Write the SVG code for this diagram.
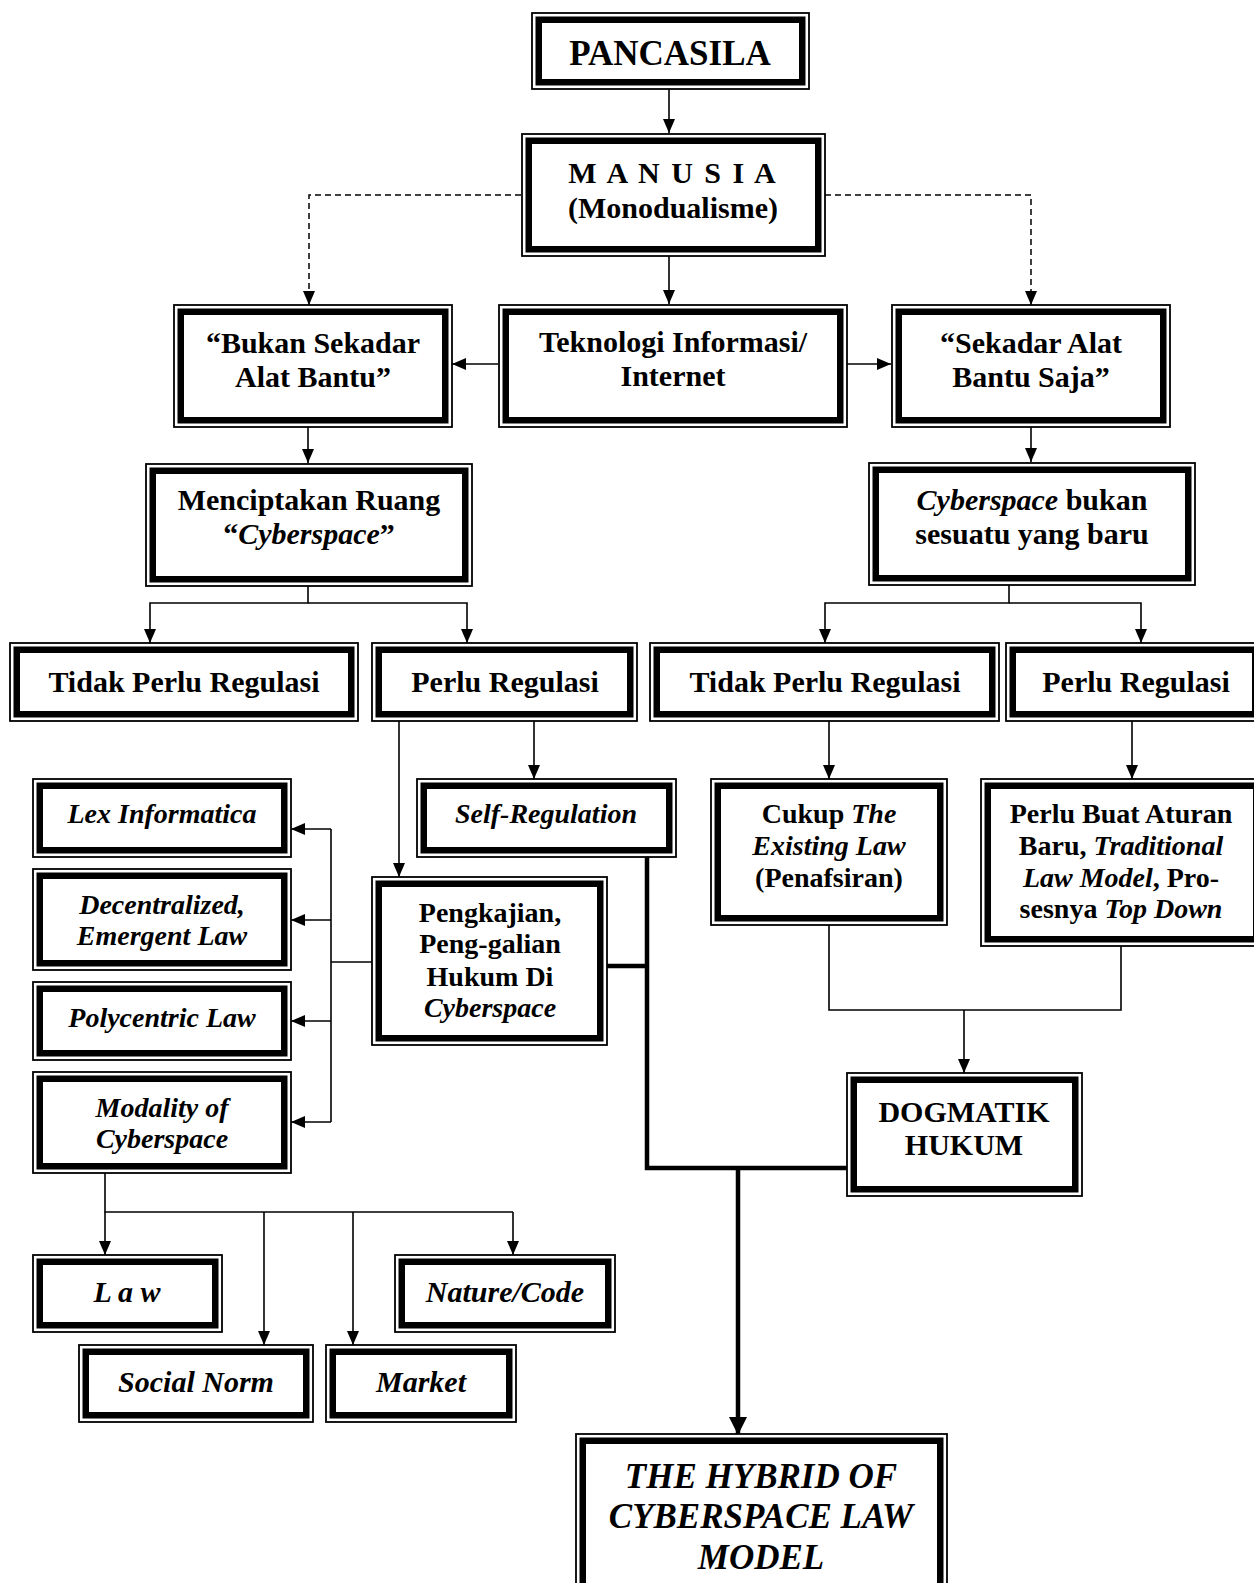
<svg xmlns="http://www.w3.org/2000/svg" width="1254" height="1583" viewBox="0 0 1254 1583">
<style>
.o{fill:#fff;stroke:#000;stroke-width:1.8}
.i{fill:none;stroke:#000;stroke-width:6.5}
text{font-family:"Liberation Serif","Times New Roman",serif;font-weight:bold;fill:#000;text-anchor:middle}
.t30{font-size:30px}
.t28{font-size:28px}
.it{font-style:italic}
.ln{fill:none;stroke:#000;stroke-width:1.6}
.dl{fill:none;stroke:#000;stroke-width:1.5;stroke-dasharray:6 4}
.tk{fill:none;stroke:#000;stroke-width:4.5}
</style>
<defs>
<marker id="ar" viewBox="0 0 14 12" refX="14" refY="6" markerWidth="14" markerHeight="12" markerUnits="userSpaceOnUse" orient="auto"><path d="M0,0 L14,6 L0,12 z" fill="#000"/></marker>
<marker id="arb" viewBox="0 0 18 18" refX="17" refY="9" markerWidth="18" markerHeight="18" markerUnits="userSpaceOnUse" orient="auto"><path d="M0,0 L18,9 L0,18 z" fill="#000"/></marker>
</defs>

<g id="connectors">
<line class="ln" x1="669" y1="89" x2="669" y2="133" marker-end="url(#ar)"/>
<polyline class="dl" points="521,195 309,195 309,305" marker-end="url(#ar)"/>
<polyline class="dl" points="825,195 1031,195 1031,305" marker-end="url(#ar)"/>
<line class="ln" x1="669" y1="256" x2="669" y2="304" marker-end="url(#ar)"/>
<line class="ln" x1="498" y1="364" x2="452" y2="364" marker-end="url(#ar)"/>
<line class="ln" x1="847" y1="364" x2="891" y2="364" marker-end="url(#ar)"/>
<line class="ln" x1="308" y1="427" x2="308" y2="463" marker-end="url(#ar)"/>
<line class="ln" x1="1031" y1="427" x2="1031" y2="462" marker-end="url(#ar)"/>
<polyline class="ln" points="308,585 308,603 150,603 150,643" marker-end="url(#ar)"/>
<polyline class="ln" points="308,603 467,603 467,643" marker-end="url(#ar)"/>
<polyline class="ln" points="1009,585 1009,603 825,603 825,643" marker-end="url(#ar)"/>
<polyline class="ln" points="1009,603 1141,603 1141,643" marker-end="url(#ar)"/>
<line class="ln" x1="399" y1="721" x2="399" y2="877" marker-end="url(#ar)"/>
<line class="ln" x1="534" y1="721" x2="534" y2="779" marker-end="url(#ar)"/>
<line class="ln" x1="829" y1="721" x2="829" y2="779" marker-end="url(#ar)"/>
<line class="ln" x1="1132" y1="721" x2="1132" y2="779" marker-end="url(#ar)"/>
<polyline class="ln" points="372,962 331,962"/>
<line class="ln" x1="331" y1="829" x2="331" y2="1122"/>
<line class="ln" x1="331" y1="829" x2="291" y2="829" marker-end="url(#ar)"/>
<line class="ln" x1="331" y1="920" x2="291" y2="920" marker-end="url(#ar)"/>
<line class="ln" x1="331" y1="1021" x2="291" y2="1021" marker-end="url(#ar)"/>
<line class="ln" x1="331" y1="1122" x2="291" y2="1122" marker-end="url(#ar)"/>
<polyline class="ln" points="829,924 829,1010 1121,1010 1121,946"/>
<line class="ln" x1="964" y1="1010" x2="964" y2="1073" marker-end="url(#ar)"/>
<polyline class="ln" points="105,1173 105,1212 513,1212"/>
<line class="ln" x1="105" y1="1212" x2="105" y2="1255" marker-end="url(#ar)"/>
<line class="ln" x1="264" y1="1212" x2="264" y2="1345" marker-end="url(#ar)"/>
<line class="ln" x1="353" y1="1212" x2="353" y2="1345" marker-end="url(#ar)"/>
<line class="ln" x1="513" y1="1212" x2="513" y2="1255" marker-end="url(#ar)"/>
<polyline class="tk" points="647,857 647,1168 847,1168"/>
<line class="tk" x1="607" y1="966" x2="647" y2="966"/>
<line class="tk" x1="738" y1="1168" x2="738" y2="1434" marker-end="url(#arb)"/>
</g>

<g id="pancasila"><rect class="o" x="532" y="13" width="277" height="76"/><rect class="i" x="538.75" y="19.75" width="263.5" height="62.5"/>
<text style="font-size:35px" x="670" y="65">PANCASILA</text></g>

<g id="manusia"><rect class="o" x="522" y="134" width="303" height="122"/><rect class="i" x="528.75" y="140.75" width="289.5" height="108.5"/>
<text class="t30" x="673" y="183" letter-spacing="2">M A N U S I A</text>
<text class="t30" x="673" y="218">(Monodualisme)</text></g>

<g id="teknologi"><rect class="o" x="499" y="305" width="348" height="122"/><rect class="i" x="505.75" y="311.75" width="334.5" height="108.5"/>
<text class="t30" x="673" y="352">Teknologi Informasi/</text>
<text class="t30" x="673" y="386">Internet</text></g>

<g id="bukan"><rect class="o" x="174" y="305" width="278" height="122"/><rect class="i" x="180.75" y="311.75" width="264.5" height="108.5"/>
<text class="t30" x="313" y="353">“Bukan Sekadar</text>
<text class="t30" x="313" y="387">Alat Bantu”</text></g>

<g id="sekadar"><rect class="o" x="892" y="305" width="278" height="122"/><rect class="i" x="898.75" y="311.75" width="264.5" height="108.5"/>
<text class="t30" x="1031" y="353">“Sekadar Alat</text>
<text class="t30" x="1031" y="387">Bantu Saja”</text></g>

<g id="menciptakan"><rect class="o" x="146" y="464" width="326" height="122"/><rect class="i" x="152.75" y="470.75" width="312.5" height="108.5"/>
<text class="t30" x="309" y="510">Menciptakan Ruang</text>
<text class="t30" x="309" y="544">“<tspan class="it">Cyberspace</tspan>”</text></g>

<g id="cyberspace-bukan"><rect class="o" x="869" y="463" width="326" height="122"/><rect class="i" x="875.75" y="469.75" width="312.5" height="108.5"/>
<text class="t30" x="1032" y="510"><tspan class="it">Cyberspace</tspan> bukan</text>
<text class="t30" x="1032" y="544">sesuatu yang baru</text></g>

<g id="tidak-kiri"><rect class="o" x="10" y="643" width="348" height="78"/><rect class="i" x="16.75" y="649.75" width="334.5" height="64.5"/>
<text class="t30" x="184" y="692">Tidak Perlu Regulasi</text></g>

<g id="perlu-kiri"><rect class="o" x="372" y="643" width="265" height="78"/><rect class="i" x="378.75" y="649.75" width="251.5" height="64.5"/>
<text class="t30" x="505" y="692">Perlu Regulasi</text></g>

<g id="tidak-kanan"><rect class="o" x="650" y="643" width="349" height="78"/><rect class="i" x="656.75" y="649.75" width="335.5" height="64.5"/>
<text class="t30" x="825" y="692">Tidak Perlu Regulasi</text></g>

<g id="perlu-kanan"><rect class="o" x="1006" y="643" width="256" height="78"/><rect class="i" x="1012.75" y="649.75" width="242.5" height="64.5"/>
<text class="t30" x="1136" y="692">Perlu Regulasi</text></g>

<g id="self-regulation"><rect class="o" x="417" y="779" width="259" height="78"/><rect class="i" x="423.75" y="785.75" width="245.5" height="64.5"/>
<text class="t28 it" x="546" y="823">Self-Regulation</text></g>

<g id="lex"><rect class="o" x="33" y="779" width="258" height="78"/><rect class="i" x="39.75" y="785.75" width="244.5" height="64.5"/>
<text class="t28 it" x="162" y="823">Lex Informatica</text></g>

<g id="decentralized"><rect class="o" x="33" y="869" width="258" height="101"/><rect class="i" x="39.75" y="875.75" width="244.5" height="87.5"/>
<text class="t28 it" x="162" y="914">Decentralized,</text>
<text class="t28 it" x="162" y="945">Emergent Law</text></g>

<g id="polycentric"><rect class="o" x="33" y="982" width="258" height="78"/><rect class="i" x="39.75" y="988.75" width="244.5" height="64.5"/>
<text class="t28 it" x="162" y="1027">Polycentric Law</text></g>

<g id="modality"><rect class="o" x="33" y="1072" width="258" height="101"/><rect class="i" x="39.75" y="1078.75" width="244.5" height="87.5"/>
<text class="t28 it" x="162" y="1117">Modality of</text>
<text class="t28 it" x="162" y="1148">Cyberspace</text></g>

<g id="pengkajian"><rect class="o" x="372" y="877" width="235" height="168"/><rect class="i" x="378.75" y="883.75" width="221.5" height="154.5"/>
<text class="t28" x="490" y="922">Pengkajian,</text>
<text class="t28" x="490" y="953">Peng-galian</text>
<text class="t28" x="490" y="986">Hukum Di</text>
<text class="t28 it" x="490" y="1017">Cyberspace</text></g>

<g id="cukup"><rect class="o" x="711" y="779" width="236" height="146"/><rect class="i" x="717.75" y="785.75" width="222.5" height="132.5"/>
<text class="t28" x="829" y="823">Cukup <tspan class="it">The</tspan></text>
<text class="t28 it" x="829" y="855">Existing Law</text>
<text class="t28" x="829" y="887">(Penafsiran)</text></g>

<g id="perlu-buat"><rect class="o" x="981" y="779" width="282" height="167"/><rect class="i" x="987.75" y="785.75" width="268.5" height="153.5"/>
<text class="t28" x="1121" y="823">Perlu Buat Aturan</text>
<text class="t28" x="1121" y="855">Baru, <tspan class="it">Traditional</tspan></text>
<text class="t28" x="1121" y="887"><tspan class="it">Law Model</tspan>, Pro-</text>
<text class="t28" x="1121" y="918">sesnya <tspan class="it">Top Down</tspan></text></g>

<g id="dogmatik"><rect class="o" x="847" y="1073" width="235" height="123"/><rect class="i" x="853.75" y="1079.75" width="221.5" height="109.5"/>
<text class="t30" x="964" y="1122">DOGMATIK</text>
<text class="t30" x="964" y="1155">HUKUM</text></g>

<g id="law"><rect class="o" x="33" y="1255" width="189" height="77"/><rect class="i" x="39.75" y="1261.75" width="175.5" height="63.5"/>
<text class="t30 it" x="127" y="1302">L a w</text></g>

<g id="nature"><rect class="o" x="395" y="1255" width="220" height="77"/><rect class="i" x="401.75" y="1261.75" width="206.5" height="63.5"/>
<text class="t30 it" x="505" y="1302">Nature/Code</text></g>

<g id="social"><rect class="o" x="79" y="1345" width="234" height="77"/><rect class="i" x="85.75" y="1351.75" width="220.5" height="63.5"/>
<text class="t30 it" x="196" y="1392">Social Norm</text></g>

<g id="market"><rect class="o" x="326" y="1345" width="190" height="77"/><rect class="i" x="332.75" y="1351.75" width="176.5" height="63.5"/>
<text class="t30 it" x="421" y="1392">Market</text></g>

<g id="hybrid"><rect class="o" x="576" y="1434" width="371" height="175"/><rect class="i" x="582.75" y="1440.75" width="357.5" height="161.5"/>
<text class="it" style="font-size:35px" x="761" y="1488">THE HYBRID OF</text>
<text class="it" style="font-size:35px" x="761" y="1528">CYBERSPACE LAW</text>
<text class="it" style="font-size:35px" x="761" y="1569">MODEL</text></g>
</svg>
